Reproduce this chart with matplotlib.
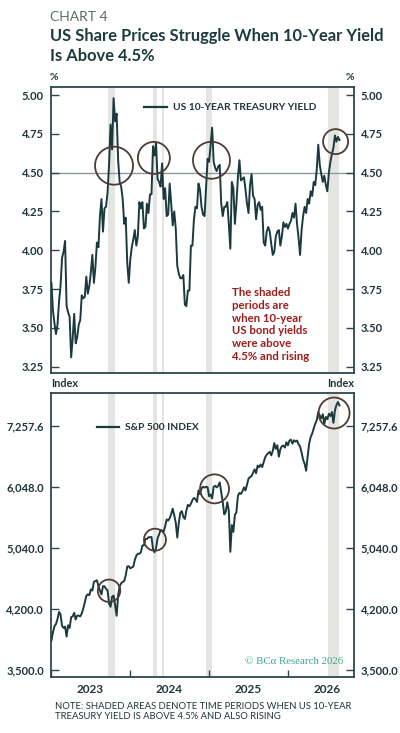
import pandas as pd
import matplotlib
matplotlib.use("Agg")
import matplotlib.pyplot as plt
import matplotlib.dates as mdates
from matplotlib.ticker import FixedLocator, FuncFormatter, NullLocator

# weekly (Tuesday) readings, 2023-01-03 onward
yield_2023 = [3.79, 3.61, 3.53, 3.46, 3.52, 3.67, 3.77, 3.95, 3.99, 4.06, 3.64, 3.60, 3.57,
              3.31, 3.43, 3.59, 3.40, 3.44, 3.52, 3.55, 3.71, 3.69, 3.70, 3.83, 3.72, 3.77,
              3.86, 3.97, 3.79, 3.89, 4.05, 4.02, 4.22, 4.33, 4.12, 4.27, 4.28, 4.37, 4.55,
              4.81, 4.65, 4.98, 4.83, 4.88, 4.58, 4.44, 4.41, 4.33, 4.17, 4.21, 3.92, 3.79]
yield_2024 = [3.94, 4.02, 4.07, 4.13, 4.03, 4.09, 4.31, 4.27, 4.31, 4.14, 4.15, 4.30, 4.24,
              4.36, 4.36, 4.67, 4.61, 4.69, 4.46, 4.44, 4.41, 4.56, 4.33, 4.40, 4.22, 4.23,
              4.43, 4.30, 4.16, 4.25, 4.14, 3.90, 3.85, 3.82, 3.82, 3.84, 3.65, 3.64, 3.74,
              3.74, 4.03, 4.03, 4.20, 4.28, 4.27, 4.43, 4.39, 4.28, 4.23, 4.22, 4.40, 4.59, 4.57]
yield_2025 = [4.68, 4.79, 4.57, 4.53, 4.51, 4.54, 4.55, 4.30, 4.22, 4.28, 4.28, 4.31,
              4.17, 4.01, 4.44, 4.40, 4.17, 4.30, 4.47, 4.58, 4.45, 4.46, 4.47, 4.39, 4.30,
              4.24, 4.42, 4.49, 4.35, 4.33, 4.20, 4.29, 4.31, 4.26, 4.28, 4.05, 4.03, 4.12,
              4.15, 4.12, 4.04, 3.97, 3.99, 4.09, 4.12, 4.13, 4.03, 4.09, 4.18, 4.15, 4.17, 4.14]
yield_2026 = [4.17, 4.19, 4.24, 4.21, 4.30, 4.17, 4.08, 3.97, 4.13, 4.22, 4.28, 4.24, 4.33,
              4.30, 4.38, 4.35, 4.44, 4.42, 4.52, 4.68, 4.55, 4.49, 4.44, 4.48, 4.42, 4.38,
              4.50, 4.57, 4.62, 4.66, 4.74, 4.70, 4.73, 4.71]

spx_2023 = [3825, 3919, 3991, 4017, 4077, 4164, 4136, 3997, 3970, 3986, 3870, 4002, 3971,
            4100, 4109, 4154, 4071, 4119, 4119, 4110, 4145, 4206, 4283, 4369, 4389, 4378,
            4455, 4439, 4555, 4567, 4577, 4499, 4437, 4388, 4497, 4496, 4461, 4444, 4274,
            4229, 4358, 4373, 4248, 4117, 4378, 4495, 4538, 4554, 4567, 4643, 4768, 4774]
spx_2024 = [4743, 4756, 4766, 4865, 4925, 4954, 4953, 4976, 5078, 5079, 5175, 5179, 5204,
            5205, 5209, 5022, 4975, 5036, 5188, 5247, 5321, 5306, 5291, 5375, 5487, 5469,
            5509, 5577, 5667, 5556, 5436, 5200, 5434, 5597, 5626, 5529, 5496, 5634, 5732,
            5709, 5751, 5815, 5851, 5832, 5782, 5984, 5917, 6021, 6049, 6034, 6051, 6040, 5882]
spx_2025 = [5909, 5843, 6049, 6067, 6038, 6068, 6129, 5955, 5778, 5572, 5615, 5777,
            5633, 4983, 5397, 5288, 5561, 5607, 5887, 5940, 5922, 5970, 6038, 5983, 6092,
            6198, 6226, 6244, 6309, 6371, 6299, 6446, 6411, 6465, 6416, 6512, 6607, 6657,
            6688, 6715, 6644, 6735, 6891, 6772, 6846, 6617, 6766, 6829, 6840, 6800, 6909, 6846]
spx_2026 = [6944, 6963, 6880, 6950, 6920, 6945, 6870, 6820, 6700, 6560, 6480, 6345, 6620,
            6880, 7020, 7090, 7200, 7300, 7380, 7560, 7480, 7420, 7510, 7300, 7450, 7400,
            7520, 7470, 7560, 7320, 7600, 7720, 7790, 7710]

shade_periods = [("2023-09-22", "2023-10-23"), ("2024-04-16", "2024-05-04"),
                 ("2024-05-27", "2024-06-05"), ("2024-12-17", "2025-01-14"),
                 ("2026-07-05", "2026-08-24")]

# annotation rings: date, level, radius in pixels
yield_rings = [("2023-10-19", 4.545, 19), ("2024-04-20", 4.595, 16),
               ("2025-01-11", 4.58, 18.5), ("2026-08-07", 4.70, 12.5)]
spx_rings = [("2023-09-26", 4436, 11.2), ("2024-04-25", 5166, 11),
             ("2025-01-25", 6012, 14.5), ("2026-07-31", 7538, 15.5)]

yield_ticks = [3.25, 3.50, 3.75, 4.00, 4.25, 4.50, 4.75, 5.00]
spx_ticks = [3500.0, 4200.0, 5040.0, 6048.0, 7257.6]
years = [2023, 2024, 2025, 2026]

yields = yield_2023 + yield_2024 + yield_2025 + yield_2026
spx = spx_2023 + spx_2024 + spx_2025 + spx_2026
dates = pd.date_range("2023-01-03", periods=len(yields), freq="7D")

plt.rcParams["font.family"] = ["Lato", "DejaVu Sans"]

LINE = "#1b3a3e"
DARK = "#1f3538"
SPINE = "#2e474b"
SHADE = "#e4e4e1"
RING = "#4d3b34"

W, H = 400, 733
fig = plt.figure(figsize=(W / 100, H / 100), dpi=100)
fig.patch.set_facecolor("white")

ax1 = fig.add_axes([51 / W, 1 - 373 / H, 303 / W, 286 / H])
ax2 = fig.add_axes([51 / W, 1 - 677 / H, 303 / W, 284 / H])

xmin, xmax = pd.Timestamp("2023-01-01"), pd.Timestamp("2026-10-31")

for ax in (ax1, ax2):
    for s, e in shade_periods:
        ax.axvspan(pd.Timestamp(s), pd.Timestamp(e), color=SHADE, lw=0, zorder=0)
    ax.set_xlim(xmin, xmax)
    for sp in ax.spines.values():
        sp.set_color(SPINE)
        sp.set_linewidth(1.3)
    ax.tick_params(axis="y", direction="in", length=5.8, width=1.0, color=SPINE,
                   left=True, right=True, labelleft=True, labelright=True,
                   labelsize=8, labelcolor=DARK, pad=5)
    ax.yaxis.set_minor_locator(NullLocator())
    ax.xaxis.set_major_locator(FixedLocator(mdates.date2num(
        [pd.Timestamp(f"{y}-01-01") for y in years])))

# top panel: 10-year yield
ax1.axhline(4.5, color="#8c9899", lw=1.0, zorder=1)
ax1.plot(dates, yields, color=LINE, lw=1.4, zorder=3)
ax1.set_ylim(3.209, 5.052)
ax1.yaxis.set_major_locator(FixedLocator(yield_ticks))
ax1.yaxis.set_major_formatter(FuncFormatter(lambda v, p: f"{v:.2f}"))
ax1.tick_params(axis="x", length=0, labelbottom=False)
for d, v, r in yield_rings:
    ax1.scatter([pd.Timestamp(d)], [v], s=(2 * r * 0.72) ** 2, facecolors="none",
                edgecolors=RING, linewidths=1.3, zorder=5)

# bottom panel: S&P 500
ax2.set_yscale("log")
ax2.plot(dates, spx, color=LINE, lw=1.4, zorder=3)
ax2.set_ylim(3430, 8002)
ax2.yaxis.set_major_locator(FixedLocator(spx_ticks))
ax2.yaxis.set_minor_locator(NullLocator())
ax2.yaxis.set_major_formatter(FuncFormatter(lambda v, p: f"{v:,.1f}"))
ax2.tick_params(axis="x", which="major", direction="in", length=4.8, width=1.0,
                color=SPINE, labelbottom=False)
ax2.xaxis.set_minor_locator(FixedLocator(mdates.date2num(
    [pd.Timestamp(f"{y}-07-01") for y in years])))
ax2.xaxis.set_minor_formatter(FuncFormatter(lambda v, p: str(mdates.num2date(v).year)))
ax2.tick_params(axis="x", which="minor", length=0, pad=5, labelsize=8.5, labelcolor=DARK)
for lab in ax2.get_xticklabels(minor=True):
    lab.set_fontweight("bold")
for d, v, r in spx_rings:
    ax2.scatter([pd.Timestamp(d)], [v], s=(2 * r * 0.72) ** 2, facecolors="none",
                edgecolors=RING, linewidths=1.3, zorder=5)
for ax in (ax1, ax2):
    for lab in ax.get_yticklabels():
        lab.set_fontweight("bold")

# legends
ax1.plot([0.307, 0.382], [0.930, 0.930], transform=ax1.transAxes, color=LINE, lw=1.6)
ax1.text(0.401, 0.930, "US 10-YEAR TREASURY YIELD", transform=ax1.transAxes,
         va="center", ha="left", fontsize=7.4, color=DARK, fontweight="bold")
ax2.plot([0.153, 0.226], [0.880, 0.880], transform=ax2.transAxes, color=LINE, lw=1.6)
ax2.text(0.245, 0.880, "S&P 500 INDEX", transform=ax2.transAxes,
         va="center", ha="left", fontsize=7.4, color=DARK, fontweight="bold")

ax1.text(232 / W, 1 - 287 / H, "The shaded\nperiods are\nwhen 10-year\nUS bond yields\n"
         "were above\n4.5% and rising", transform=fig.transFigure, va="top", ha="left",
         fontsize=8.2, color="#9b1c1c", fontweight="bold", linespacing=1.2)

# header and labels
fig.text(50 / W, 1 - 20.7 / H, "CHART 4", fontsize=10, color="#5b6a6b", va="baseline")
fig.text(50 / W, 1 - 40.7 / H, "US Share Prices Struggle When 10-Year Yield",
         fontsize=11.9, color="#1d3b3e", fontweight="bold", va="baseline")
fig.text(50 / W, 1 - 60.7 / H, "Is Above 4.5%", fontsize=11.9, color="#1d3b3e",
         fontweight="bold", va="baseline")
fig.text(50 / W, 1 - 80 / H, "%", fontsize=7.5, color=DARK, va="baseline", fontweight="bold")
fig.text(354 / W, 1 - 80 / H, "%", fontsize=7.5, color=DARK, va="baseline", ha="right",
         fontweight="bold")
fig.text(51 / W, 1 - 387 / H, "Index", fontsize=7.8, color=DARK, va="baseline",
         fontweight="bold")
fig.text(354 / W, 1 - 387 / H, "Index", fontsize=7.8, color=DARK, va="baseline",
         ha="right", fontweight="bold")
fig.text(343 / W, 1 - 661 / H, "© BCα Research 2026", fontsize=7.8, color="#3aa98f",
         va="center", ha="right", family=["Liberation Serif", "DejaVu Serif"])
fig.text(55 / W, 1 - 702 / H, "NOTE: SHADED AREAS DENOTE TIME PERIODS WHEN US 10-YEAR\n"
         "TREASURY YIELD IS ABOVE 4.5% AND ALSO RISING", fontsize=6.8, color=DARK,
         va="top", ha="left", linespacing=1.15)

fig.savefig("out.png", dpi=100, facecolor="white")
